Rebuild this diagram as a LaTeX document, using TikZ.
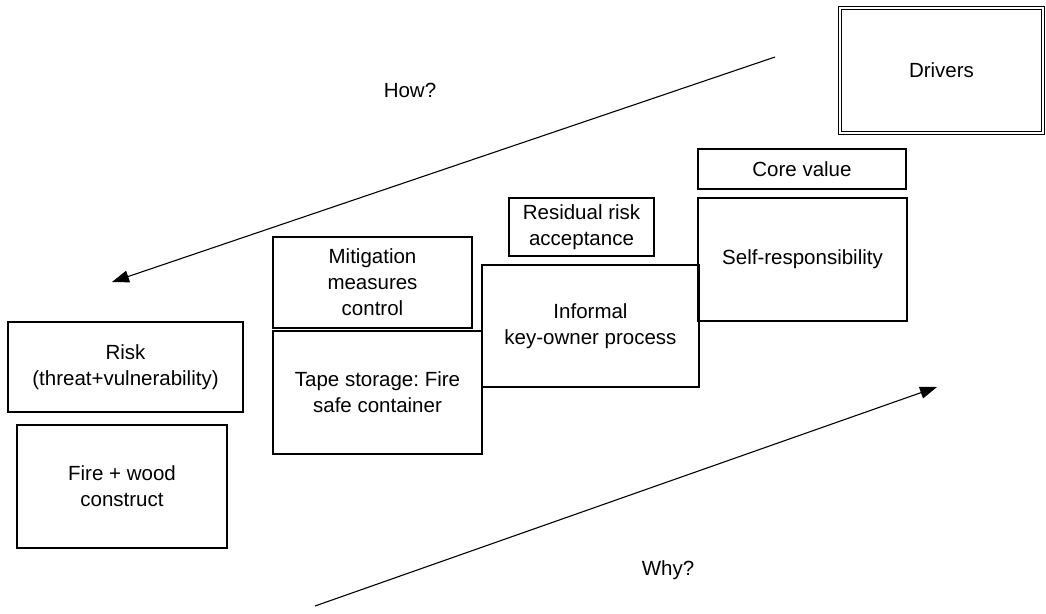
\documentclass[tikz,border=0pt]{standalone}
\usepackage{fontspec}
\setmainfont{Liberation Sans}
\usetikzlibrary{arrows.meta}
\frenchspacing
\begin{document}
\begin{tikzpicture}[x=1pt,y=-1pt,
  every node/.style={font=\fontsize{20.5}{26}\selectfont, align=center, inner sep=0pt},
  box/.style={draw, line width=1.1pt, rectangle, minimum width=#1},
  bigarrow/.style={line width=1.1pt, -{Triangle[length=17pt,width=12pt]}}]
\useasboundingbox (0,0) rectangle (1046,613);
% driver box with a double frame
\node[box=203pt, minimum height=125pt, double, double distance=2.4pt, line width=0.8pt] (drivers) at (941.5,70.5) {Drivers};
% upper tier
\node[box=208pt, minimum height=40pt] (core) at (802,169) {Core value};
\node[box=209pt, minimum height=123pt] (self) at (802.5,259.5) {Self-responsibility};
% middle tier
\node[box=145pt, minimum height=58pt] (resid) at (581.5,227) {Residual risk\\acceptance};
\node[box=217pt, minimum height=122pt] (informal) at (590.5,326) {Informal\\key-owner process};
% mitigation tier
\node[box=199pt, minimum height=91pt] (mitig) at (372.5,282.5) {Mitigation\\measures\\control};
\node[box=209pt, minimum height=123pt] (tape) at (377.5,392.5) {Tape storage: Fire\\safe container};
% risk tier
\node[box=235pt, minimum height=90pt] (risk) at (125.5,367) {Risk\\(threat+vulnerability)};
\node[box=210pt, minimum height=123pt] (fire) at (122,486.5) {Fire + wood\\construct};
% direction arrows
\coordinate (howA) at (775,57);
\coordinate (howB) at (112,282);
\coordinate (whyA) at (315,606);
\coordinate (whyB) at (937,387);
\draw[bigarrow] (howA) -- (howB);
\draw[bigarrow] (whyA) -- (whyB);
\node (how) at (410,90) {How?};
\node (why) at (668,570) {Why?};
\end{tikzpicture}
\end{document}
